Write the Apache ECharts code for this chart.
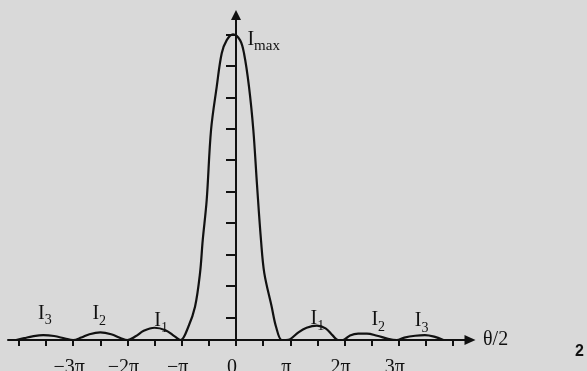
<!DOCTYPE html>
<html>
<head>
<meta charset="utf-8">
<script src="https://cdn.jsdelivr.net/npm/echarts@6/dist/echarts.min.js"></script>
<style>
html,body{margin:0;padding:0;background:#d9d9d9;}
#chart{width:587px;height:371px;}
</style>
</head>
<body>
<div id="chart"></div>
<script>
// θ/2 in units of π
var thetaOverPi = [-4.05,-3.9,-3.75,-3.55,-3.35,-3.15,-3.0,-2.85,-2.7,-2.5,-2.3,-2.12,-2.0,-1.85,-1.7,-1.5,-1.3,-1.13,-1.02,
  -0.878,-0.755,-0.663,-0.613,-0.54,-0.46,-0.355,-0.263,-0.171,-0.055,0.074,0.147,0.239,0.319,0.387,0.46,0.521,0.657,0.737,0.842,
  0.92,1.0,1.15,1.3,1.49,1.65,1.78,1.88,1.97,2.1,2.25,2.41,2.6,2.8,2.96,3.1,3.3,3.48,3.65,3.82];
// intensity relative to Imax
var intensity = [0.0,0.006,0.012,0.016,0.013,0.005,0.0,0.008,0.019,0.025,0.019,0.006,0.0,0.012,0.03,0.04,0.032,0.012,0.0,
  0.0435,0.109,0.219,0.327,0.458,0.687,0.829,0.938,0.981,1.0,0.981,0.938,0.829,0.687,0.507,0.327,0.219,0.109,0.0435,0.0,
  0.0,0.003,0.025,0.04,0.047,0.038,0.015,0.0,0.0,0.015,0.021,0.021,0.014,0.004,0.0,0.008,0.014,0.016,0.011,0.0];
var xTickValues = [-4,-3.5,-3,-2.5,-2,-1.5,-1,-0.5,0,0.5,1,1.5,2,2.5,3,3.5,4];
var xLabelValues = [-3,-2,-1,0,1,2,3];
var yTickValues = [0.073,0.176,0.279,0.382,0.485,0.588,0.691,0.794,0.897,1.0];
var lobeSubscripts = ['3','2','1','1','2','3'];
var lobeLabelT = [-3.52,-2.52,-1.38,1.5,2.62,3.42];
var lobeLabelV = [0.08,0.078,0.056,0.062,0.059,0.056];

var ink = '#111';
var serif = 'Liberation Serif';
var data = thetaOverPi.map(function(t,i){return [t,intensity[i]];});
var richI = {
  i:{fontFamily:serif,fontSize:20,color:ink,lineHeight:24,verticalAlign:'top'},
  s:{fontFamily:serif,fontSize:14,color:ink,lineHeight:14,padding:[12,0,0,0],verticalAlign:'bottom'},
  m:{fontFamily:serif,fontSize:15,color:ink,lineHeight:14,padding:[12,0,0,0],verticalAlign:'bottom'}
};
var marks = lobeSubscripts.map(function(s,i){
  return {coord:[lobeLabelT[i],lobeLabelV[i]],value:s,label:{formatter:'{i|I}{s|'+s+'}'}};
});
marks.push({coord:[0.51,0.975],label:{formatter:'{i|I}{m|max}'}});

var chart = echarts.init(document.getElementById('chart'),null,{renderer:'canvas'});
chart.setOption({
  backgroundColor:'#d9d9d9',
  animation:false,
  grid:{left:8,right:117,top:15,bottom:31,outerBoundsMode:'none',containLabel:false},
  xAxis:{
    type:'value',min:-4.2,max:4.31,
    name:'θ/2',nameLocation:'end',nameGap:13,
    nameTextStyle:{fontFamily:serif,fontSize:20,color:ink,verticalAlign:'middle',align:'left'},
    axisLine:{onZero:true,symbol:['none','triangle'],symbolSize:[10,11],lineStyle:{color:ink,width:2}},
    axisTick:{show:true,length:6,inside:false,customValues:xTickValues,lineStyle:{color:ink,width:2}},
    axisLabel:{show:true,customValues:xLabelValues,fontFamily:serif,fontSize:20,color:ink,margin:18,padding:[0,8,0,0],
      formatter:function(v){ if(v===0) return '0'; var a=Math.abs(v); return (v<0?'−':'')+(a===1?'':a)+'π'; }},
    splitLine:{show:false}
  },
  yAxis:{
    type:'value',min:0,max:1.0631,
    axisLine:{onZero:true,symbol:['none','triangle'],symbolSize:[10,10],lineStyle:{color:ink,width:2}},
    axisTick:{show:true,length:10,inside:false,customValues:yTickValues,lineStyle:{color:ink,width:2}},
    axisLabel:{show:false},
    splitLine:{show:false}
  },
  series:[{
    type:'line',data:data,smooth:0.35,symbol:'none',
    lineStyle:{color:ink,width:2.2},
    markPoint:{symbol:'circle',symbolSize:0,silent:true,
      label:{show:true,position:'inside',rich:richI},
      data:marks}
  }],
  graphic:[{type:'text',left:575,top:344,style:{text:'2',font:'bold 16px "Liberation Sans"',fill:ink}}]
});
</script>
</body>
</html>
